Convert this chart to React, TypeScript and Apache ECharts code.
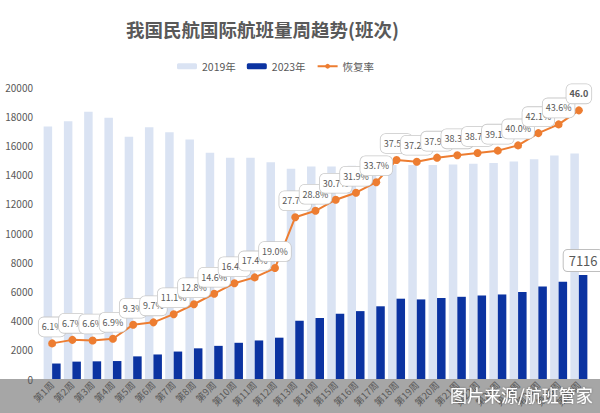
import React, { useEffect, useRef } from "react";
import * as echarts from "echarts";

const weeks = Array.from({ length: 27 }, (_, i) => `第${i + 1}周`);
const flights2019 = [17300, 17650, 18300, 17900, 16600, 17250, 16900, 16400, 15500, 15150, 15150, 14850, 14400, 14550, 14550, 14600, 14750, 14650, 14650, 14650, 14700, 14750, 14800, 14900, 15050, 15300, 15450];
const flights2023 = [1060, 1190, 1210, 1230, 1550, 1680, 1880, 2100, 2270, 2480, 2640, 2830, 3990, 4180, 4470, 4650, 4980, 5500, 5450, 5550, 5630, 5720, 5790, 5960, 6340, 6660, 7116];
const recoveryRate = [6.1, 6.7, 6.6, 6.9, 9.3, 9.7, 11.1, 12.8, 14.6, 16.4, 17.4, 19.0, 27.7, 28.8, 30.7, 31.9, 33.7, 37.5, 37.2, 37.9, 38.3, 38.7, 39.1, 40.0, 42.1, 43.6, 46.0];
const yTicks = { min: 0, max: 20000, interval: 2000 };

const FONT = "'Noto Sans CJK SC', 'Noto Sans', sans-serif";
const TXT = "#595959";

export default function App() {
  const ref = useRef<HTMLDivElement>(null);
  useEffect(() => {
    if (!ref.current) return;
    const chart = echarts.init(ref.current, null, { renderer: "svg" });
    const last = flights2023.length - 1;
    chart.setOption({
      animation: false,
      backgroundColor: "#ffffff",
      textStyle: { fontFamily: FONT },
      title: {
        text: "我国民航国际航班量周趋势(班次)",
        left: 121,
        top: 15,
        textStyle: { fontSize: 18.5, fontWeight: "bold", color: TXT, fontFamily: FONT },
      },
      legend: {
        left: 172,
        top: 56,
        itemWidth: 20,
        itemHeight: 6,
        itemGap: 11,
        textStyle: { fontSize: 10.5, color: TXT, fontFamily: FONT },
        data: ["2019年", "2023年", "恢复率"],
      },
      grid: { left: 42, right: 11, top: 87, bottom: 34, containLabel: false },
      xAxis: {
        type: "category",
        data: weeks,
        axisLine: { show: false },
        axisTick: { show: false },
        axisLabel: { rotate: 45, interval: 0, fontSize: 9.5, color: TXT, margin: 4, fontFamily: FONT },
      },
      yAxis: [
        {
          type: "value",
          min: yTicks.min,
          max: yTicks.max,
          interval: yTicks.interval,
          axisLine: { show: false },
          axisTick: { show: false },
          splitLine: { show: false },
          axisLabel: {
            fontSize: 10,
            color: TXT,
            margin: 9,
            fontFamily: FONT,
            formatter: (v: number) => String(v),
          },
        },
        { type: "value", min: 0, max: 50, show: false, splitLine: { show: false } },
      ],
      graphic: [
        {
          type: "rect",
          z: -1,
          silent: true,
          shape: { x: 0, y: 379, width: 600, height: 34 },
          style: { fill: "#a6a6a6" },
        },
        {
          type: "text",
          z: 100,
          x: 450,
          y: 386,
          silent: true,
          style: {
            text: "图片来源/航班管家",
            fill: "#ffffff",
            fontSize: 17,
            fontFamily: FONT,
            textShadowColor: "rgba(0,0,0,0.35)",
            textShadowBlur: 2,
          },
        },
      ],
      series: [
        {
          name: "2019年",
          type: "bar",
          data: flights2019,
          barWidth: 8.5,
          barGap: "0%",
          itemStyle: { color: "#dae3f3" },
        },
        {
          name: "2023年",
          type: "bar",
          data: flights2023.map((v, i) =>
            i === last
              ? {
                  value: v,
                  label: {
                    show: true,
                    position: "top",
                    distance: 4,
                    fontSize: 13,
                    color: TXT,
                    fontFamily: FONT,
                    backgroundColor: "#ffffff",
                    borderColor: "#bfbfbf",
                    borderWidth: 1,
                    borderRadius: 4,
                    padding: [4, 5],
                  },
                }
              : v
          ),
          barWidth: 8.5,
          itemStyle: { color: "#0b33a1" },
        },
        {
          name: "恢复率",
          type: "line",
          yAxisIndex: 1,
          data: recoveryRate,
          symbol: "circle",
          symbolSize: 8,
          lineStyle: { color: "#ed7d31", width: 2 },
          itemStyle: { color: "#ed7d31" },
          z: 5,
          label: {
            show: true,
            position: "top",
            distance: 3,
            fontSize: 9,
            color: TXT,
            fontFamily: FONT,
            backgroundColor: "#ffffff",
            borderColor: "#c8c8c8",
            borderWidth: 0.8,
            borderRadius: 5,
            padding: [5, 3],
            formatter: (p: any) =>
              p.dataIndex === last ? `{b|${p.value.toFixed(1)}}` : `${p.value.toFixed(1)}%`,
            rich: { b: { fontSize: 9, fontWeight: "bold", color: TXT, fontFamily: FONT } },
          },
        },
      ],
    });
    return () => chart.dispose();
  }, []);
  return (
    <div
      ref={ref}
      style={{ position: "fixed", left: 0, top: 0, width: 600, height: 413 }}
    />
  );
}
